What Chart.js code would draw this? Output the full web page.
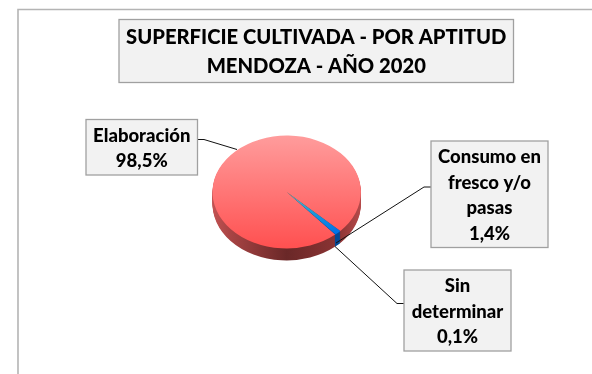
<!DOCTYPE html>
<html><head><meta charset="utf-8">
<style>html,body{margin:0;padding:0;background:#fff}canvas{display:block}</style>
<script src="https://cdn.jsdelivr.net/npm/chart.js@4"></script>
</head><body><canvas id="c" width="592" height="374"></canvas>
<script>
const categories = ["Elaboración", "Consumo en fresco y/o pasas", "Sin determinar"];
const shares = [98.5, 1.4, 0.1];
const titleLines = ["SUPERFICIE CULTIVADA - POR APTITUD", "MENDOZA - AÑO 2020"];
const labelLines = [["Elaboración", "98,5%"], ["Consumo en", "fresco y/o", "pasas", "1,4%"], ["Sin", "determinar", "0,1%"]];

const W = 592, H = 374, CX = 286.7, CY = 192, RX = 74.2, SQUASH = 0.76, DEPTH = 12;
const FONT = 'Lato, Carlito, sans-serif';
const canvas = document.getElementById('c');
const ctx = canvas.getContext('2d');

function vGrad(c1, c2) {
  const g = ctx.createLinearGradient(0, CY - RX, 0, CY + RX);
  g.addColorStop(0, c1); g.addColorStop(1, c2); return g;
}
function hGrad(stops) {
  const g = ctx.createLinearGradient(CX - RX, 0, CX + RX, 0);
  stops.forEach(([p, c]) => g.addColorStop(p, c)); return g;
}
const redTop = vGrad('#ff9c9c', '#ff5050');
const blueTop = ctx.createRadialGradient(CX, CY, 0, CX, CY, RX);
blueTop.addColorStop(0, '#7fb8b0'); blueTop.addColorStop(0.45, '#1f9fd8'); blueTop.addColorStop(1, '#0070e8');
const sideRed = hGrad([[0, '#c25252'], [0.12, '#a84444'], [0.5, '#6a2828'], [0.85, '#8c3434'], [1, '#b54a4a']]);
const sideBlue = '#044a98';

const pseudo3d = {
  id: 'pseudo3d',
  beforeDatasetsDraw(chart) {
    const c = chart.ctx, arcs = chart.getDatasetMeta(0).data;
    const sides = [sideRed, sideBlue, sideBlue];
    for (let d = DEPTH; d >= 1; d--) {
      c.save();
      c.translate(CX, CY + d);
      c.scale(1, SQUASH);
      c.translate(-CX, -CY);
      arcs.forEach((a, i) => {
        const o = a.options;
        a.options = Object.assign({}, o, { backgroundColor: sides[i], borderWidth: 0 });
        a.draw(c);
        a.options = o;
      });
      c.restore();
    }
    c.save();
    c.translate(CX, CY);
    c.scale(1, SQUASH);
    c.translate(-CX, -CY);
  },
  afterDatasetsDraw(chart) { chart.ctx.restore(); }
};

function box(c, x0, y0, x1, y1, lines, size, lh, dy) {
  c.fillStyle = '#f2f2f2';
  c.fillRect(x0, y0, x1 - x0, y1 - y0);
  c.strokeStyle = '#a0a0a0';
  c.lineWidth = 1.3;
  c.strokeRect(x0, y0, x1 - x0, y1 - y0);
  c.fillStyle = '#000';
  c.font = '900 ' + size + 'px ' + FONT;
  c.textAlign = 'center';
  c.textBaseline = 'middle';
  const top = (y0 + y1) / 2 + dy - lh * (lines.length - 1) / 2;
  lines.forEach((t, i) => c.fillText(t, (x0 + x1) / 2, top + i * lh));
}
function leader(c, pts) {
  c.strokeStyle = '#111';
  c.lineWidth = 1;
  c.beginPath();
  pts.forEach(([x, y], i) => i ? c.lineTo(x, y) : c.moveTo(x, y));
  c.stroke();
}
const decor = {
  id: 'decor',
  beforeDraw(chart) {
    const c = chart.ctx;
    c.fillStyle = '#fff'; c.fillRect(0, 0, W, H);
    c.strokeStyle = '#b4b4b4'; c.lineWidth = 1.6;
    c.beginPath(); c.moveTo(18, H); c.lineTo(18, 9.5); c.lineTo(W, 9.5); c.stroke();
  },
  afterDraw(chart) {
    const c = chart.ctx;
    leader(c, [[198, 139.5], [204, 139.5], [237, 149.5]]);
    leader(c, [[431, 187], [424, 187], [336, 243]]);
    leader(c, [[404, 303.5], [397, 303.5], [335, 246.5]]);
    box(c, 119, 19.5, 513.5, 82.5, titleLines, 20.2, 29, 0.5);
    box(c, 86, 119.5, 197.5, 175, labelLines[0], 18.5, 25, 1);
    box(c, 431, 141, 548, 247.5, labelLines[1], 18.5, 25.5, 1.5);
    box(c, 404, 270, 511, 351, labelLines[2], 18.5, 25.5, 1.5);
  }
};

new Chart(canvas, {
  type: 'pie',
  data: {
    labels: categories,
    datasets: [{
      data: shares,
      backgroundColor: [redTop, blueTop, '#0b4fa8'],
      borderWidth: 0
    }]
  },
  options: {
    responsive: false,
    animation: false,
    rotation: 139.1,
    layout: { padding: { left: CX - RX, right: W - CX - RX, top: CY - RX, bottom: H - CY - RX } },
    plugins: { legend: { display: false }, title: { display: false }, tooltip: { enabled: false } }
  },
  plugins: [decor, pseudo3d]
});
</script></body></html>
